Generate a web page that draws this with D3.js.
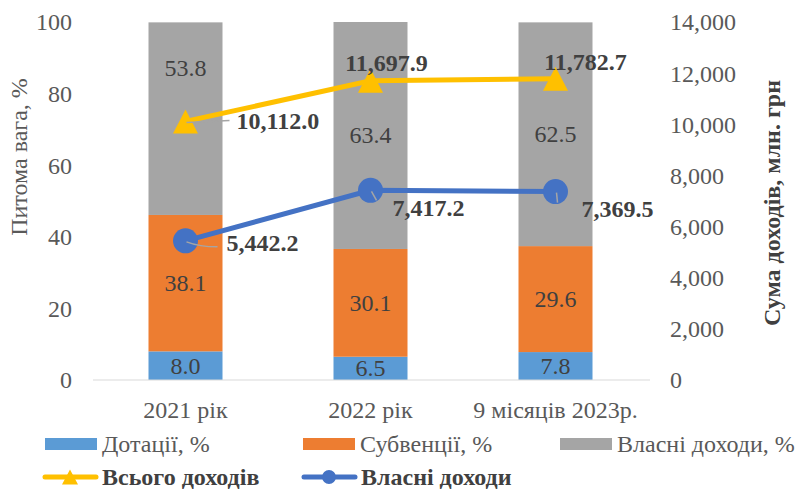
<!DOCTYPE html>
<html>
<head>
<meta charset="utf-8">
<script src="https://cdn.jsdelivr.net/npm/d3@7"></script>
<style>
  body { margin: 0; background: #fff; }
  svg, svg text { font-family: "Liberation Serif", "Times New Roman", serif; }
  .tick text { fill: #595959; font-size: 24px; font-family: "Liberation Serif", "Times New Roman", serif; }
</style>
</head>
<body>
<div id="chart"></div>
<script>
// categories and series
var categories = ['2021 рік', '2022 рік', '9 місяців 2023р.'];
var dotatsii = [8.0, 6.5, 7.8];
var subventsii = [38.1, 30.1, 29.6];
var vlasniPct = [53.8, 63.4, 62.5];
var vsogoDohodiv = [10112.0, 11697.9, 11782.7];
var vlasniDohody = [5442.2, 7417.2, 7369.5];
var leftTicks = [0, 20, 40, 60, 80, 100];
var rightTicks = [0, 2000, 4000, 6000, 8000, 10000, 12000, 14000];

var W = 798, H = 491;
var m = { left: 93, right: 150, top: 22, bottom: 111 };
var FS = 24;

var svg = d3.select('#chart').append('svg')
  .attr('width', W).attr('height', H);

var x = d3.scaleBand().domain(categories)
  .range([m.left, W - m.right]).paddingInner(0.6).paddingOuter(0.3);
var y = d3.scaleLinear().domain([0, 100]).range([H - m.bottom, m.top]);
var y2 = d3.scaleLinear().domain([0, 14000]).range([H - m.bottom, m.top]);

// stacked bars
var stackRows = categories.map(function(c, i) {
  return { cat: c, d: dotatsii[i], s: subventsii[i], v: vlasniPct[i] };
});
var keys = ['d', 's', 'v'];
var barColors = { d: '#5B9BD5', s: '#ED7D31', v: '#A5A5A5' };
var series = d3.stack().keys(keys)(stackRows);

svg.append('g').selectAll('g').data(series).enter().append('g')
  .attr('fill', function(s) { return barColors[s.key]; })
  .selectAll('rect').data(function(s) { return s; }).enter().append('rect')
  .attr('x', function(d) { return x(d.data.cat); })
  .attr('width', x.bandwidth())
  .attr('y', function(d) { return y(d[1]); })
  .attr('height', function(d) { return y(d[0]) - y(d[1]); });

// bar value labels
var segLabels = [];
series.forEach(function(s) {
  s.forEach(function(d, i) {
    // first grey label was lifted to clear the triangle
    var lift = (s.key === 'v' && i === 0) ? 51 : 0;
    segLabels.push({ cat: d.data.cat, val: d.data[s.key], mid: (d[0] + d[1]) / 2, lift: lift });
  });
});
svg.append('g').selectAll('text').data(segLabels).enter().append('text')
  .attr('x', function(d) { return x(d.cat) + x.bandwidth() / 2; })
  .attr('y', function(d) { return y(d.mid) - d.lift; })
  .attr('dy', '0.33em')
  .attr('text-anchor', 'middle')
  .attr('fill', '#404040')
  .attr('font-size', FS)
  .text(function(d) { return d3.format('.1f')(d.val); });

// baseline
svg.append('line')
  .attr('x1', m.left).attr('x2', W - m.right + 2)
  .attr('y1', y(0)).attr('y2', y(0))
  .attr('stroke', '#D9D9D9').attr('stroke-width', 1);

// left axis
var axL = svg.append('g').attr('transform', 'translate(' + (m.left - 21) + ',0)')
  .call(d3.axisLeft(y).tickValues(leftTicks).tickSize(0).tickPadding(0));
axL.select('.domain').remove();
axL.selectAll('.tick text').attr('dy', '0.33em');

// right axis
var axR = svg.append('g').attr('transform', 'translate(' + (W - m.right + 22) + ',0)')
  .call(d3.axisRight(y2).tickValues(rightTicks).tickSize(0).tickPadding(0).tickFormat(d3.format(',')));
axR.select('.domain').remove();
axR.selectAll('.tick text').attr('dy', '0.33em');

// x axis labels
var axB = svg.append('g').attr('transform', 'translate(0,' + (y(0) + 30) + ')')
  .call(d3.axisBottom(x).tickSize(0).tickPadding(0));
axB.select('.domain').remove();
axB.selectAll('.tick text').attr('dy', '0.33em').attr('fill', '#595959');

// axis titles
svg.append('text')
  .attr('transform', 'translate(19,157) rotate(-90)')
  .attr('text-anchor', 'middle').attr('dy', '0.33em')
  .attr('fill', '#595959').attr('font-size', FS)
  .text('Питома вага, %');
svg.append('text')
  .attr('transform', 'translate(772,203) rotate(-90)')
  .attr('text-anchor', 'middle').attr('dy', '0.33em')
  .attr('fill', '#404040').attr('font-size', FS).attr('font-weight', 'bold')
  .text('Сума доходів, млн. грн');

// lines
var cx = function(i) { return x(categories[i]) + x.bandwidth() / 2; };
var line = d3.line()
  .x(function(d, i) { return cx(i); })
  .y(function(d) { return y2(d); });

function triPath(w, h) {
  return 'M0,' + (-h / 2) + 'L' + (w / 2) + ',' + (h / 2) + 'L' + (-w / 2) + ',' + (h / 2) + 'Z';
}

svg.append('path').datum(vsogoDohodiv)
  .attr('d', line).attr('fill', 'none')
  .attr('stroke', '#FFC000').attr('stroke-width', 5);
svg.append('g').selectAll('path').data(vsogoDohodiv).enter().append('path')
  .attr('d', triPath(25, 24))
  .attr('transform', function(d, i) { return 'translate(' + cx(i) + ',' + y2(d) + ')'; })
  .attr('fill', '#FFC000');

svg.append('path').datum(vlasniDohody)
  .attr('d', line).attr('fill', 'none')
  .attr('stroke', '#4472C4').attr('stroke-width', 5);
svg.append('g').selectAll('circle').data(vlasniDohody).enter().append('circle')
  .attr('cx', function(d, i) { return cx(i); })
  .attr('cy', function(d) { return y2(d); })
  .attr('r', 12.5)
  .attr('fill', '#4472C4');

// leader lines from markers to moved labels
var g0 = { x: cx(0), ty: y2(vsogoDohodiv[0]), cy: y2(vlasniDohody[0]) };
var leaders = [
  'M' + (g0.x + 1) + ',' + (g0.ty + 1) + 'L' + (g0.x + 44) + ',' + (g0.ty - 1),
  'M' + (g0.x + 1) + ',' + (g0.cy + 1) + 'Q' + (g0.x + 14) + ',' + (g0.cy + 6) + ' ' + (g0.x + 32) + ',' + (g0.cy + 6),
  'M' + (cx(1) + 1) + ',' + (y2(vlasniDohody[1]) + 1) + 'L' + (cx(1) + 6) + ',' + (y2(vlasniDohody[1]) + 10),
  'M' + (cx(2) + 1) + ',' + (y2(vlasniDohody[2]) + 1) + 'L' + (cx(2) + 2) + ',' + (y2(vlasniDohody[2]) + 11)
];
svg.append('g').selectAll('path').data(leaders).enter().append('path')
  .attr('d', function(d) { return d; })
  .attr('stroke', '#A5A5A5').attr('stroke-width', 1.5).attr('fill', 'none');

// line value labels: offsets relative to marker
var totalOffsets = [[51, 0, 'start'], [16, -18, 'middle'], [30, -17, 'middle']];
var ownOffsets = [[41, 2, 'start'], [22, 18, 'start'], [26, 18, 'start']];

function lineLabels(vals, offs) {
  svg.append('g').selectAll('text').data(vals).enter().append('text')
    .attr('x', function(d, i) { return cx(i) + offs[i][0]; })
    .attr('y', function(d, i) { return y2(d) + offs[i][1]; })
    .attr('dy', '0.33em')
    .attr('text-anchor', function(d, i) { return offs[i][2]; })
    .attr('fill', '#404040').attr('font-size', FS).attr('font-weight', 'bold')
    .text(function(d) { return d3.format(',.1f')(d); });
}
lineLabels(vsogoDohodiv, totalOffsets);
lineLabels(vlasniDohody, ownOffsets);

// legend
var legend1 = [
  { name: 'Дотації, %', color: barColors.d, x: 45 },
  { name: 'Субвенції, %', color: barColors.s, x: 303 },
  { name: 'Власні доходи, %', color: barColors.v, x: 560 }
];
var lg1 = svg.append('g').selectAll('g').data(legend1).enter().append('g')
  .attr('transform', function(d) { return 'translate(' + d.x + ',444)'; });
lg1.append('rect').attr('x', 0).attr('y', -6).attr('width', 52).attr('height', 12)
  .attr('fill', function(d) { return d.color; });
lg1.append('text').attr('x', 57).attr('dy', '0.33em')
  .attr('fill', '#595959').attr('font-size', FS)
  .text(function(d) { return d.name; });

var legend2 = [
  { name: 'Всього доходів', color: '#FFC000', x: 43, marker: 'tri' },
  { name: 'Власні доходи', color: '#4472C4', x: 302, marker: 'circle' }
];
var lg2 = svg.append('g').selectAll('g').data(legend2).enter().append('g')
  .attr('transform', function(d) { return 'translate(' + d.x + ',477)'; });
lg2.append('line').attr('x1', 2).attr('x2', 53).attr('y1', 0).attr('y2', 0)
  .attr('stroke', function(d) { return d.color; }).attr('stroke-width', 5)
  .attr('stroke-linecap', 'round');
lg2.append('path')
  .attr('d', function(d) {
    return d.marker === 'tri'
      ? triPath(16, 15)
      : d3.symbol().type(d3.symbolCircle).size(150)();
  })
  .attr('transform', 'translate(27,0)')
  .attr('fill', function(d) { return d.color; });
lg2.append('text').attr('x', 59).attr('dy', '0.33em')
  .attr('fill', '#404040').attr('font-size', FS).attr('font-weight', 'bold')
  .text(function(d) { return d.name; });
</script>
</body>
</html>
